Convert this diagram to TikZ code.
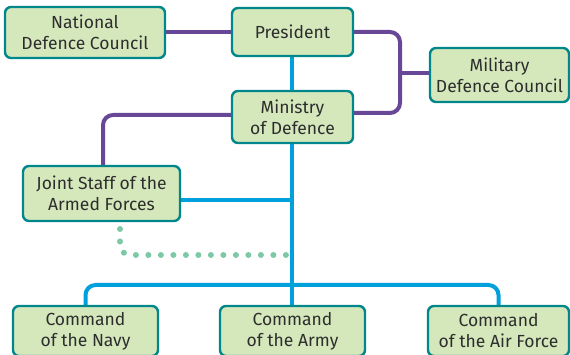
\documentclass[tikz,border=0pt]{standalone}
\usepackage{fontspec}
\setmainfont{Fira Sans}
\usepackage{xcolor}
\usetikzlibrary{backgrounds}

\definecolor{boxfill}{RGB}{213,232,188}
\definecolor{boxline}{RGB}{0,135,140}
\definecolor{txtgray}{RGB}{45,45,45}
\definecolor{lienviolet}{RGB}{104,72,150}
\definecolor{lienbleu}{RGB}{0,160,220}
\definecolor{pointille}{RGB}{125,200,165}

\tikzset{
  organe/.style={draw=boxline, fill=boxfill, line width=2.4pt, rounded corners=6pt,
    align=center, text=txtgray, inner sep=0pt,
    font=\fontsize{17.5}{21}\selectfont},
  violet/.style={draw=lienviolet, line width=4pt, rounded corners=10pt},
  bleu/.style={draw=lienbleu, line width=4pt, rounded corners=10pt},
  tirets/.style={draw=pointille, line width=6pt, line cap=round,
    dash pattern=on 0pt off 12.5pt, rounded corners=10pt}
}

\begin{document}
\begin{tikzpicture}[x=1pt,y=-1pt]
\useasboundingbox (0,0) rectangle (570,355);
% les organes
\node[organe, minimum width=160pt, minimum height=51pt] (ndc) at (85,32.5) {National\\Defence Council};
\node[organe, minimum width=121pt, minimum height=48pt] (pres) at (292.5,32) {President};
\node[organe, minimum width=121pt, minimum height=52pt] (mod) at (292.5,117) {Ministry\\of Defence};
\node[organe, minimum width=139pt, minimum height=54pt] (mdc) at (499.5,75) {Military\\Defence Council};
\node[organe, minimum width=157pt, minimum height=55pt] (jsaf) at (101.5,193.5) {Joint Staff of the\\Armed Forces};
\node[organe, minimum width=145pt, minimum height=50pt] (navy) at (85.5,331) {Command\\of the Navy};
\node[organe, minimum width=145pt, minimum height=50pt] (army) at (292.5,331) {Command\\of the Army};
\node[organe, minimum width=141pt, minimum height=50pt] (air) at (498.5,331) {Command\\of the Air Force};
% points de jonction
\coordinate (cmd) at (400,73);
\coordinate (bus) at (292,285);
\coordinate (pt) at (120,229);
\begin{scope}[on background layer]
  % liens violets
  \draw[violet] (ndc.east |- pres.west) -- (pres.west);
  \draw[violet] (pres.east) -- (cmd |- pres.east) -- (cmd |- 0,113) -- (mod.east |- 0,113);
  \draw[violet] (cmd) -- (mdc.west |- cmd);
  \draw[violet] (mod.west |- 0,115) -- (103,115) -- (jsaf.north -| 103,0);
  % liens bleus
  \draw[bleu] (pres.south -| bus) -- (army.north -| bus);
  \draw[bleu] (jsaf.east |- 0,200) -- (bus |- 0,200);
  \draw[bleu] (navy.north) -- (navy.north |- bus) -- (air.north |- bus) -- (air.north);
  % pointilles
  \draw[tirets] (pt) -- (pt |- 0,255) -- (bus |- 0,255);
\end{scope}
\end{tikzpicture}
\end{document}
